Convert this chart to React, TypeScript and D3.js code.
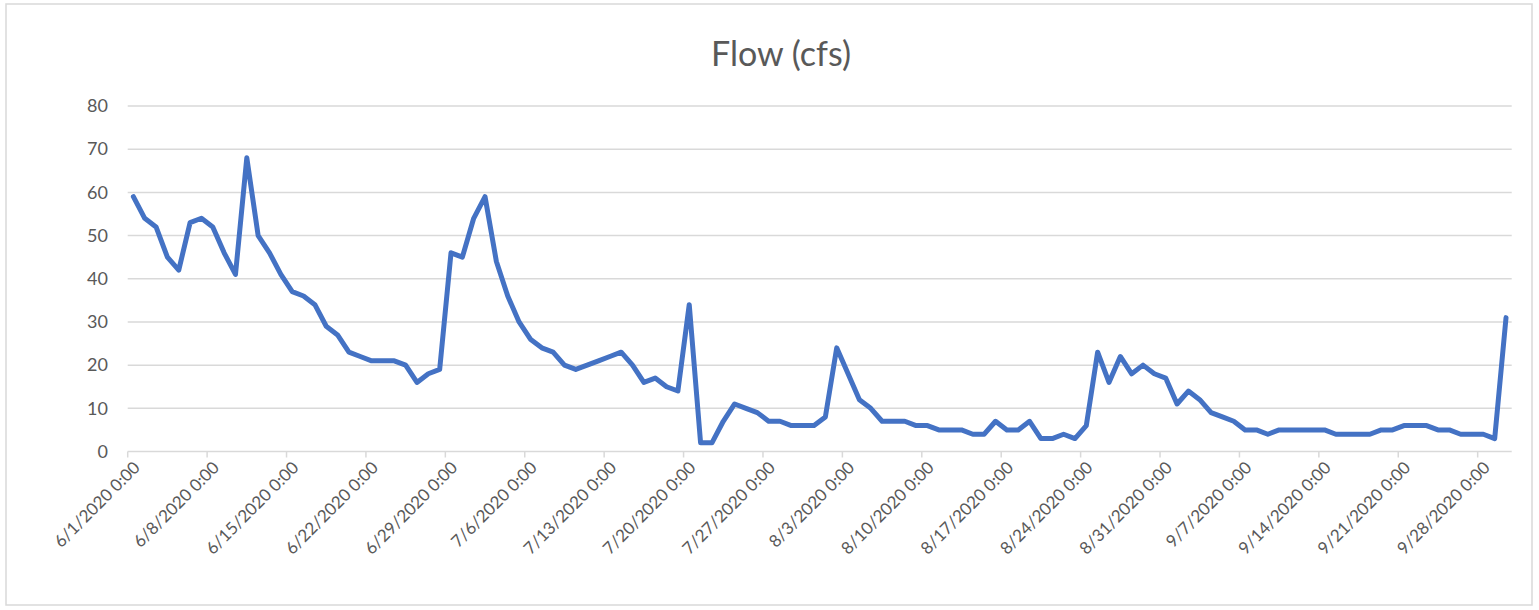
import React from "react";
import * as d3 from "d3";

const TITLE = "Flow (cfs)";
const START_DATE = new Date(2020, 5, 1);
const END_DATE = new Date(2020, 9, 1);

// Daily flow values 6/1/2020 .. 9/30/2020
const flow: number[] = [
  59, 54, 52, 45, 42, 53, 54, 52, 46, 41,
  68, 50, 46, 41, 37, 36, 34, 29, 27, 23,
  22, 21, 21, 21, 20, 16, 18, 19, 46, 45,
  54, 59, 44, 36, 30, 26, 24, 23, 20, 19,
  20, 21, 22, 23, 20, 16, 17, 15, 14, 34,
  2, 2, 7, 11, 10, 9, 7, 7, 6, 6,
  6, 8, 24, 18, 12, 10, 7, 7, 7, 6,
  6, 5, 5, 5, 4, 4, 7, 5, 5, 7,
  3, 3, 4, 3, 6, 23, 16, 22, 18, 20,
  18, 17, 11, 14, 12, 9, 8, 7, 5, 5,
  4, 5, 5, 5, 5, 5, 4, 4, 4, 4,
  5, 5, 6, 6, 6, 5, 5, 4, 4, 4,
  3, 31,
];

const yTicks = [0, 10, 20, 30, 40, 50, 60, 70, 80];
const xTickLabels = [
  "6/1/2020 0:00", "6/8/2020 0:00", "6/15/2020 0:00", "6/22/2020 0:00",
  "6/29/2020 0:00", "7/6/2020 0:00", "7/13/2020 0:00", "7/20/2020 0:00",
  "7/27/2020 0:00", "8/3/2020 0:00", "8/10/2020 0:00", "8/17/2020 0:00",
  "8/24/2020 0:00", "8/31/2020 0:00", "9/7/2020 0:00", "9/14/2020 0:00",
  "9/21/2020 0:00", "9/28/2020 0:00",
];

const W = 1539;
const H = 610;
const FONT = "Lato, 'Open Sans', sans-serif";
const TEXT = "#595959";
const GRID = "#d9d9d9";

export default function App() {
  const x = d3.scaleTime().domain([START_DATE, END_DATE]).range([127.7, 1511.7]);
  const y = d3.scaleLinear().domain([0, 80]).range([451.5, 106]);

  const data = flow.map((v, i) => ({
    date: d3.timeHour.offset(d3.timeDay.offset(START_DATE, i), 12),
    v,
  }));
  const tickDates = xTickLabels.map((_, i) => d3.timeDay.offset(START_DATE, i * 7));

  const line = d3
    .line<{ date: Date; v: number }>()
    .x((d) => x(d.date))
    .y((d) => y(d.v));

  return (
    <svg
      width={W}
      height={H}
      style={{ position: "absolute", left: 0, top: 0, background: "#fff" }}
    >
      <rect x={6} y={4} width={1526} height={601} fill="#fff" stroke={GRID} strokeWidth={1.5} />
      <text
        x={781}
        y={66}
        textAnchor="middle"
        fontFamily={FONT}
        fontSize={34}
        fill={TEXT}
      >
        {TITLE}
      </text>
      {yTicks.map((t) => (
        <g key={t}>
          {t > 0 && (
            <line
              x1={127.7}
              x2={1511.7}
              y1={y(t)}
              y2={y(t)}
              stroke={GRID}
              strokeWidth={1.5}
            />
          )}
          <text
            x={108}
            y={y(t)}
            dy="0.35em"
            textAnchor="end"
            fontFamily={FONT}
            fontSize={18}
            fill={TEXT}
          >
            {t}
          </text>
        </g>
      ))}
      <line x1={127.7} x2={1511.7} y1={y(0)} y2={y(0)} stroke={GRID} strokeWidth={1.5} />
      {tickDates.map((d, i) => (
        <g key={i}>
          <line x1={x(d)} x2={x(d)} y1={y(0)} y2={y(0) + 6} stroke={GRID} strokeWidth={1.5} />
          <text
            transform={`translate(${x(d) + 9},${y(0) + 13}) rotate(-45)`}
            dy="0.35em"
            textAnchor="end"
            fontFamily={FONT}
            fontSize={17}
            fill={TEXT}
          >
            {xTickLabels[i]}
          </text>
        </g>
      ))}
      <path
        d={line(data) || ""}
        fill="none"
        stroke="#4472C4"
        strokeWidth={5}
        strokeLinejoin="round"
        strokeLinecap="round"
      />
    </svg>
  );
}
